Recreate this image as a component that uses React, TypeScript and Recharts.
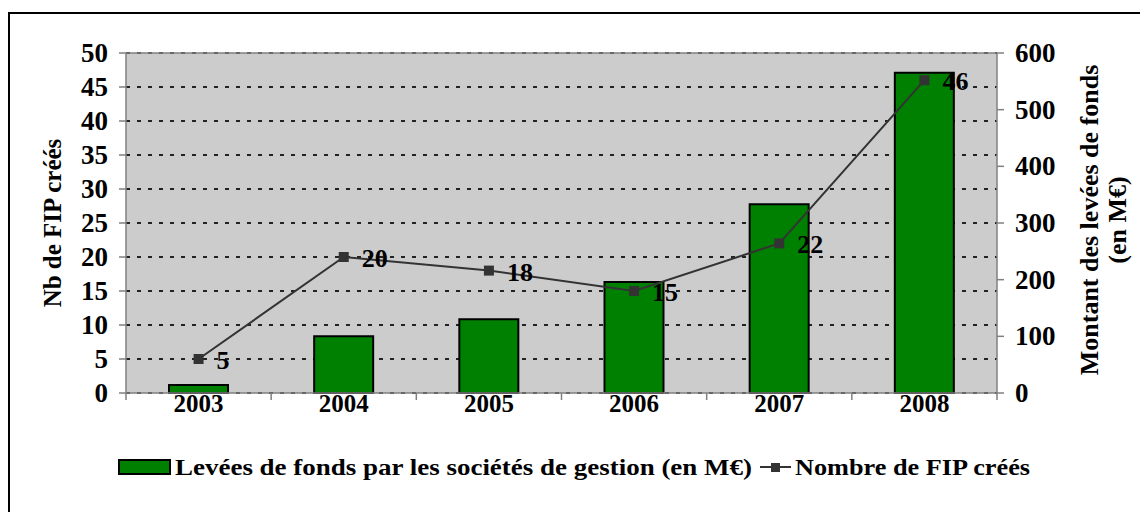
import React from 'react';
import {
  ComposedChart,
  Bar,
  Line,
  XAxis,
  YAxis,
  CartesianGrid,
  Legend,
  LabelList,
  ReferenceLine,
} from 'recharts';

const years = ['2003', '2004', '2005', '2006', '2007', '2008'];
const fundsRaised = [14, 100, 130, 196, 333, 565];
const fipCount = [5, 20, 18, 15, 22, 46];
const leftTicks = [0, 5, 10, 15, 20, 25, 30, 35, 40, 45, 50];
const rightTicks = [0, 100, 200, 300, 400, 500, 600];

const data = years.map((year, i) => ({
  year,
  funds: fundsRaised[i],
  fip: fipCount[i],
}));

const FONT = '"Liberation Serif", serif';
const W = 1138;
const H = 498;
const MARGIN = { top: 39, right: 11, left: 16, bottom: 25 };
const LEFT_W = 100;
const RIGHT_W = 140;
const BAND = (W - MARGIN.left - MARGIN.right - LEFT_W - RIGHT_W) / years.length;

const YearTick = (props: any) => {
  const { x, y, payload, index } = props;
  const top = y - 8;
  return (
    <g>
      <line x1={x - BAND / 2} x2={x - BAND / 2} y1={top} y2={top + 7} stroke="#808080" strokeWidth={1.5} />
      {index === years.length - 1 && (
        <line x1={x + BAND / 2} x2={x + BAND / 2} y1={top} y2={top + 7} stroke="#808080" strokeWidth={1.5} />
      )}
      <text x={x} y={y + 11} textAnchor="middle" fontFamily={FONT} fontWeight="bold" fontSize={25} fill="#000">
        {payload.value}
      </text>
    </g>
  );
};

const LeftTick = (props: any) => {
  const { x, y, payload } = props;
  return (
    <text x={x - 9} y={y + 9} textAnchor="end" fontFamily={FONT} fontWeight="bold" fontSize={27} fill="#000">
      {payload.value}
    </text>
  );
};

const RightTick = (props: any) => {
  const { x, y, payload } = props;
  return (
    <text x={x + 9} y={y + 9} textAnchor="start" fontFamily={FONT} fontWeight="bold" fontSize={27} fill="#000">
      {payload.value}
    </text>
  );
};

const SquareDot = (props: any) => {
  const { cx, cy } = props;
  if (cx == null || cy == null) return null;
  return <rect x={cx - 5} y={cy - 5} width={10} height={10} fill="#333333" />;
};

const PointLabel = (props: any) => {
  const { x, y, value } = props;
  return (
    <text x={x + 18} y={y + 10} fontFamily={FONT} fontWeight="bold" fontSize={26} fill="#000">
      {value}
    </text>
  );
};

const RightLabel = (props: any) => {
  const { viewBox } = props;
  const cy = viewBox.y + viewBox.height / 2 - 3;
  const x1 = viewBox.x + 101;
  const x2 = viewBox.x + 129;
  return (
    <g fontFamily={FONT} fontWeight="bold" fontSize={26} fill="#000">
      <text x={x1} y={cy} textAnchor="middle" transform={`rotate(-90 ${x1} ${cy})`}>
        Montant des levées de fonds
      </text>
      <text x={x2} y={cy} textAnchor="middle" transform={`rotate(-90 ${x2} ${cy})`}>
        (en M€)
      </text>
    </g>
  );
};

const LeftLabel = (props: any) => {
  const { viewBox } = props;
  const cy = viewBox.y + viewBox.height / 2;
  const x = viewBox.x + 35;
  return (
    <text
      x={x}
      y={cy}
      textAnchor="middle"
      transform={`rotate(-90 ${x} ${cy})`}
      fontFamily={FONT}
      fontWeight="bold"
      fontSize={25}
      fill="#000"
    >
      Nb de FIP créés
    </text>
  );
};

const LegendBox = () => (
  <svg width={W} height={40} style={{ display: 'block' }}>
    <rect x={109} y={13} width={51} height={14} fill="#008000" stroke="#000" strokeWidth={2} />
    <text
      x={165}
      y={28}
      fontFamily={FONT}
      fontWeight="bold"
      fontSize={24}
      textLength={577}
      lengthAdjust="spacingAndGlyphs"
      fill="#000"
    >
      Levées de fonds par les sociétés de gestion (en M€)
    </text>
    <line x1={750} x2={781} y1={20} y2={20} stroke="#333333" strokeWidth={2} />
    <rect x={761} y={16} width={9} height={9} fill="#333333" />
    <text
      x={785}
      y={28}
      fontFamily={FONT}
      fontWeight="bold"
      fontSize={24}
      textLength={235}
      lengthAdjust="spacingAndGlyphs"
      fill="#000"
    >
      Nombre de FIP créés
    </text>
  </svg>
);

export default function App() {
  return (
    <div
      style={{
        marginTop: 4,
        width: W,
        height: H,
        borderTop: '2px solid #000',
        borderLeft: '2px solid #000',
        background: '#fff',
      }}
    >
      <ComposedChart width={W} height={H} data={data} margin={MARGIN}>
        <CartesianGrid
          yAxisId="left"
          vertical={false}
          horizontal
          fill="#cccccc"
          stroke="#222"
          strokeWidth={2}
          strokeDasharray="4 7"
        />
        <XAxis
          dataKey="year"
          height={54}
          tick={<YearTick />}
          tickLine={false}
          axisLine={{ stroke: '#808080', strokeWidth: 1.5 }}
          interval={0}
        />
        <YAxis
          yAxisId="left"
          orientation="left"
          width={LEFT_W}
          domain={[0, 50]}
          ticks={leftTicks}
          interval={0}
          tick={<LeftTick />}
          tickLine={{ stroke: '#808080', strokeWidth: 1.5 }}
          tickSize={7}
          axisLine={{ stroke: '#808080', strokeWidth: 1.5 }}
          label={<LeftLabel />}
        />
        <YAxis
          yAxisId="right"
          orientation="right"
          width={RIGHT_W}
          domain={[0, 600]}
          ticks={rightTicks}
          interval={0}
          tick={<RightTick />}
          tickLine={{ stroke: '#808080', strokeWidth: 1.5 }}
          tickSize={7}
          axisLine={{ stroke: '#808080', strokeWidth: 1.5 }}
          label={<RightLabel />}
        />
        <ReferenceLine yAxisId="left" y={50} stroke="#808080" strokeWidth={1.5} />
        <Bar
          yAxisId="right"
          dataKey="funds"
          barSize={59}
          fill="#008000"
          stroke="#000"
          strokeWidth={2}
          isAnimationActive={false}
        />
        <Line
          yAxisId="left"
          type="linear"
          dataKey="fip"
          stroke="#333333"
          strokeWidth={2}
          dot={<SquareDot />}
          activeDot={false}
          isAnimationActive={false}
        >
          <LabelList dataKey="fip" content={<PointLabel />} />
        </Line>
        <Legend
          verticalAlign="bottom"
          height={40}
          width={W}
          wrapperStyle={{ left: 0, width: W }}
          content={<LegendBox />}
        />
      </ComposedChart>
    </div>
  );
}
